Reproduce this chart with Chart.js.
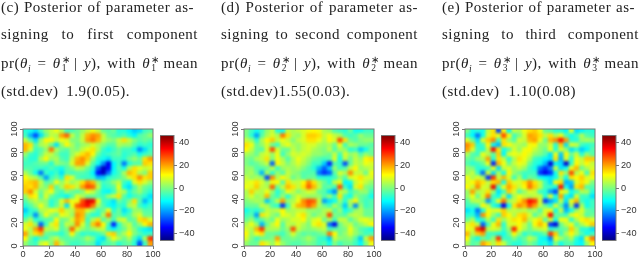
<!DOCTYPE html>
<html>
<head>
<meta charset="utf-8">
<script src="https://cdn.jsdelivr.net/npm/chart.js@4"></script>
<style>
html, body { margin: 0; background: #fff; overflow: hidden; }
#page { position: relative; width: 640px; height: 257px; filter: blur(0.4px); overflow: hidden; }
#page canvas { position: absolute; }
.line { position: absolute; height: 16px; line-height: 16px; font-family: "Liberation Serif", serif; font-size: 15px; color: #222; letter-spacing: 0.5px; text-align: justify; text-align-last: justify; }
.ss { display: inline-block; position: relative; width: 6px; height: 10px; font-size: 9.5px; line-height: 9px; margin-left: 1px; }
.ss span { position: absolute; left: 0; }
.ss span:first-child { top: -2px; }
.ss span:last-child { top: 6px; }
sub { font-size: 9.5px; line-height: 0; }
</style>
</head>
<body>
<div id="page"></div>
<script>
// rows run top (y=98) to bottom (y=2), columns left (x=2) to right (x=98)
const cellCenters = [2,6,10,14,18,22,26,30,34,38,42,46,50,54,58,62,66,70,74,78,82,86,90,94,98];
const axisTicks = [0,20,40,60,80,100];
const barTicks = [-40,-20,0,20,40];

const panelC = [
[-8,-10,-14,-6,2,6,10,4,-6,-5,-2,2,6,10,6,-2,-4,-2,-8,-8,-12,-16,-14,-6,-4],
[-6,-18,-28,-14,-2,6,4,20,26,6,-2,6,18,22,20,6,-2,-4,-6,-4,-8,-12,-4,-2,2],
[6,-4,-14,2,12,12,6,10,8,0,0,6,20,24,18,6,2,0,6,14,6,0,-4,-2,-4],
[18,14,-4,4,6,-2,-14,2,12,4,-2,2,4,8,4,0,-4,-4,4,2,2,-4,-8,-6,-8],
[18,8,-6,-4,2,24,4,-2,-4,2,0,6,10,14,4,-6,-10,-6,-2,-6,-6,-10,-22,-14,-6],
[2,-6,-8,-2,6,6,0,-6,-6,2,8,14,18,12,-2,-8,-6,-4,-2,-8,-6,-4,-10,-6,-4],
[-4,-8,-8,4,12,2,4,-4,-6,6,18,22,16,2,-8,-10,-14,-6,-6,-8,-2,2,-2,14,20],
[-6,-6,-4,-2,-2,-8,2,0,-2,8,20,20,8,-4,-10,-22,-36,-12,-6,-24,-8,-4,-4,16,14],
[-4,-4,-6,-6,-8,-4,-8,-10,-4,0,6,4,-2,-8,-26,-40,-34,-12,-4,-10,4,14,10,6,8],
[4,-2,-10,-24,-6,-10,-6,-14,-4,-6,-4,-4,-6,-12,-34,-40,-24,-10,-6,4,18,14,4,0,16],
[12,6,4,-4,-20,-6,-2,-8,14,8,-4,-6,-6,-8,-18,-16,-8,-6,-4,0,8,14,22,14,16],
[14,16,18,6,-4,-2,10,2,8,2,6,14,22,18,2,-6,-4,2,6,-6,-10,8,14,8,2],
[16,14,18,4,0,16,-4,4,16,14,6,20,28,26,6,-8,-6,-4,10,-10,-14,-4,4,-2,-4],
[16,22,8,-2,6,10,-2,-6,2,-2,-4,0,10,6,-2,-10,-12,-6,6,4,-8,-2,2,-4,-8],
[2,14,12,-4,8,-2,-6,-8,-12,-4,8,4,-2,-2,-4,-6,2,6,14,-4,-10,-6,-4,-8,-14],
[-4,2,6,2,2,-8,-4,8,18,10,10,28,38,36,10,-6,-8,-14,-2,-6,0,14,-4,-18,-10],
[-8,-4,2,10,2,-8,-2,6,-14,10,26,30,34,24,4,-4,-10,-12,-6,-8,4,6,-6,-10,-6],
[-16,-8,-6,4,6,10,8,16,6,4,18,18,8,2,-6,-2,10,-8,-2,-14,-8,2,2,-4,-4],
[-10,-6,-22,-2,10,2,-2,10,8,2,22,18,-2,-8,-8,4,24,-4,-2,-8,-4,4,8,-2,-2],
[-2,4,-8,-6,-4,-4,12,-2,0,8,20,16,-6,4,14,-4,2,-6,6,8,-4,-2,14,16,8],
[8,14,2,-26,-6,8,14,-4,6,4,22,8,-4,16,24,12,-6,-32,-8,2,6,-4,2,12,18],
[10,4,20,30,6,4,8,-4,0,26,8,2,-2,2,6,6,-8,-12,-6,-2,6,0,-8,-12,-14],
[20,4,14,18,-2,-4,-6,-8,-2,12,-2,-8,-6,-8,-6,-2,14,16,-2,4,12,0,-4,-8,-6],
[12,-2,-10,-4,-6,2,6,-2,-4,-2,-4,-2,4,0,-10,-14,0,10,4,-2,4,-6,-14,4,30],
[2,-4,-6,6,10,0,18,4,-2,-6,-6,-4,-2,-4,-14,-6,-4,-2,-8,-4,-2,-8,-28,-6,20]
];
const panelD = [
[0,-6,-10,-6,2,6,-8,-10,6,4,6,8,10,12,10,4,2,-4,-6,-8,-2,-10,-10,-6,-6],
[0,-8,-20,-4,4,8,4,24,14,4,2,8,16,16,14,6,10,6,4,-4,-6,-4,2,-2,-2],
[6,2,-8,4,12,16,6,10,6,0,6,8,14,14,10,4,12,8,28,14,-2,-4,0,2,2],
[14,10,-2,2,8,-2,-6,6,10,4,2,6,8,8,4,2,4,-2,10,-6,4,2,-2,-2,-4],
[12,6,-2,-4,8,28,8,-2,-2,6,2,6,8,4,2,0,6,-4,4,2,-8,-6,-16,-10,-2],
[4,2,-2,6,8,2,10,-6,2,8,6,8,6,2,2,0,-2,6,-6,8,2,4,-4,2,-2],
[0,-2,4,6,14,0,10,4,-4,4,10,6,2,-2,-4,-6,-4,8,-10,6,-2,6,2,12,14],
[0,-4,-2,2,6,-26,12,6,0,4,8,4,0,-6,-6,-16,-32,-4,-6,-28,-2,6,4,10,8],
[2,2,-4,-4,-2,6,-6,2,4,2,4,0,-4,-8,-18,-26,-16,2,-6,-4,6,12,2,4,6],
[2,4,-2,-18,4,-8,2,-4,6,2,0,-4,-4,-4,-24,-30,-26,-4,8,4,22,6,6,-2,10],
[6,2,4,2,-28,22,4,12,6,-2,2,-4,-2,-2,-8,-8,-8,-6,2,-4,8,10,14,8,8],
[8,10,14,8,2,10,12,-4,14,6,6,12,22,14,4,-2,-8,6,10,-12,-10,6,10,6,2],
[10,8,16,6,4,26,-2,6,18,14,6,14,26,18,6,-4,-2,-6,28,-6,-14,8,14,0,-2],
[4,16,6,4,10,2,-8,-2,10,6,0,4,8,6,-2,-4,-14,-22,6,4,-6,-2,2,2,-6],
[4,8,2,4,18,-2,-6,2,-8,2,8,4,2,2,2,-4,2,-6,14,-6,-10,2,-2,-4,-10],
[0,2,4,2,-16,-4,6,20,2,4,10,22,28,26,6,-20,-14,-10,2,-8,4,12,-2,-6,-4],
[-2,-2,-2,6,4,-4,-8,-30,-6,8,18,20,26,20,4,-2,-6,4,-2,-16,2,-22,2,-6,-4],
[-10,-6,-8,-4,6,4,6,12,2,4,6,6,2,2,0,4,6,-4,2,-10,-6,2,4,-2,-2],
[-6,-4,-20,14,8,2,-2,10,8,4,10,14,4,-2,2,4,28,0,-2,-4,4,6,4,-2,-2],
[-2,2,-6,-4,2,-2,10,2,4,8,8,12,2,8,10,-2,4,-6,6,6,-4,2,8,10,6],
[4,10,2,-18,-2,6,12,-4,6,4,8,4,0,10,14,8,-24,-36,-2,4,6,-2,2,6,12],
[8,4,18,30,4,4,4,-2,2,28,6,2,0,2,4,6,-6,-4,-2,0,10,2,-4,-6,-10],
[12,2,10,14,-2,-2,-4,-6,0,8,0,-4,-2,-4,-2,0,24,12,-2,2,8,2,-2,-6,-4],
[8,0,-6,-2,-2,0,20,-2,-2,0,-2,0,4,0,-6,-8,-16,6,2,0,2,-4,-16,6,20],
[2,-2,-2,14,8,2,10,2,-2,-4,-4,-2,0,-2,-6,-4,-10,0,-6,-2,-2,-6,-12,0,10]
];
const panelE = [
[0,-10,-8,-10,6,14,-28,12,-12,6,4,10,14,16,10,-2,-4,-8,-8,-12,8,-14,-12,-8,-8],
[-6,-12,-24,-10,8,14,10,28,12,-6,0,8,20,18,14,6,14,4,10,-4,-10,-6,4,-4,-6],
[8,-2,-14,8,16,22,-6,14,2,-4,8,6,18,20,10,-2,18,22,34,20,-8,-8,2,4,2],
[22,16,-8,-6,12,-12,-18,14,12,6,4,2,10,12,2,2,8,-8,16,-14,8,6,-6,-8,-6],
[20,8,-6,-8,6,34,14,-10,-4,8,2,10,12,6,2,-2,10,-8,8,2,-14,-8,-16,-12,-4],
[4,-4,-6,10,4,-4,16,-12,8,10,8,12,8,2,0,-4,-14,10,-16,12,-2,6,-8,2,-4],
[-2,-4,2,4,20,-8,14,6,-8,4,14,10,4,-6,-8,-12,-14,14,-18,8,-8,10,6,16,16],
[-4,-8,-6,-2,10,-32,18,10,-2,6,10,8,-2,-8,-10,-18,-38,-12,-14,-38,-6,12,6,12,6],
[2,0,-8,-8,-6,10,-14,6,8,2,6,2,-6,-10,-24,-30,-22,6,-14,-10,10,18,-2,4,8],
[2,6,-6,-25,8,-14,4,-10,12,2,-2,-6,-6,-6,-30,-36,-30,-10,14,2,28,4,10,-6,14],
[10,4,8,4,-30,30,6,18,8,-6,4,-8,-2,-4,-10,-12,-14,-10,4,-10,14,12,16,8,10],
[8,12,18,14,6,14,18,-10,16,8,8,14,22,14,6,-6,-14,12,14,-18,-16,8,14,10,0],
[12,6,22,8,6,36,-6,10,20,14,6,12,24,16,6,-6,-6,-10,34,-10,-20,14,18,-4,-4],
[2,20,4,6,14,2,-14,-6,16,8,-4,2,8,6,-6,-8,-20,-28,10,8,-10,-6,4,4,-8],
[2,10,-2,8,24,-6,-10,6,-14,4,10,6,4,6,6,-8,8,-10,20,-10,-14,8,-6,-6,-14],
[-4,4,6,2,-20,-6,10,24,4,6,14,22,34,30,8,-30,-20,-14,6,-14,10,18,-6,-10,-6],
[-6,-6,-4,12,6,-8,-14,-35,-10,14,22,18,28,20,6,-2,-8,8,-4,-22,4,-30,4,-10,-6],
[-14,-10,-24,-10,10,8,10,16,4,6,4,6,2,4,-4,8,10,-10,6,-18,-10,2,8,-2,-4],
[-8,-8,-18,22,12,2,-6,16,12,4,14,16,8,-4,2,8,34,-2,-4,-6,8,12,6,-4,-2],
[-2,4,-10,-8,4,-6,14,2,8,14,12,18,4,10,14,-4,8,-10,10,10,-8,4,12,14,8],
[8,14,6,-26,-6,10,18,-8,8,8,12,6,-2,12,18,12,-30,-38,-2,6,10,-4,4,10,16],
[10,8,30,38,6,8,6,-6,2,32,10,4,-2,4,6,8,-8,-6,-4,-2,16,4,-8,-8,-14],
[18,4,16,20,-6,-6,-8,-10,-2,12,2,-8,-4,-8,-6,-2,30,16,-6,4,12,4,-4,-10,-6],
[12,-4,-10,-2,-6,2,30,-6,-6,0,-6,-2,6,2,-10,-12,-22,10,4,-2,4,-8,-14,12,24],
[4,-4,-2,20,14,4,14,6,-4,-8,-8,-4,0,-4,-10,-8,-14,0,-10,-4,-4,-10,-12,2,12]
];

const star = n => '<span class="ss"><span>∗</span><span>' + n + '</span></span>';
const captions = [
    ['(c) Posterior of parameter as-', 'signing to first component', 'pr(<i>θ<sub>i</sub></i> = <i>θ</i>' + star(1) + ' | <i>y</i>), with <i>θ</i>' + star(1) + ' mean', '(std.dev) 1.9(0.05).'],
    ['(d) Posterior of parameter as-', 'signing to second component', 'pr(<i>θ<sub>i</sub></i> = <i>θ</i>' + star(2) + ' | <i>y</i>), with <i>θ</i>' + star(2) + ' mean', '(std.dev)1.55(0.03).'],
    ['(e) Posterior of parameter as-', 'signing to third component', 'pr(<i>θ<sub>i</sub></i> = <i>θ</i>' + star(3) + ' | <i>y</i>), with <i>θ</i>' + star(3) + ' mean', '(std.dev) 1.10(0.08)']
];
const captionLeft = [1, 221, 442];
const captionTop = [-1, 26, 55, 83];
const captionWidth = [[193, 197, 197, 129], [197, 197, 197, 132], [193, 197, 197, 134]];

const jet = ['#00007f', '#0000ff', '#007fff', '#00ffff', '#7fff7f', '#ffff00', '#ff7f00', '#ff0000', '#7f0000'];
const zMin = -46, zMax = 46;

function hexToRgb(h) {
    return [1, 3, 5].map(i => parseInt(h.substr(i, 2), 16));
}
function jetColor(v) {
    const t = Math.max(0, Math.min(0.9999, (v - zMin) / (zMax - zMin))) * (jet.length - 1);
    const i = Math.floor(t), f = t - i;
    const a = hexToRgb(jet[i]), b = hexToRgb(jet[i + 1]);
    return 'rgb(' + a.map((c, k) => Math.round(c + (b[k] - c) * f)).join(',') + ')';
}

const page = document.getElementById('page');
function addCanvas(left, top, w, h) {
    const c = document.createElement('canvas');
    c.width = w; c.height = h;
    c.style.left = left + 'px'; c.style.top = top + 'px';
    page.appendChild(c);
    return c;
}

captions.forEach((lines, p) => {
    lines.forEach((html, i) => {
        const d = document.createElement('div');
        d.className = 'line';
        d.style.left = captionLeft[p] + 'px';
        d.style.top = captionTop[i] + 'px';
        d.style.width = captionWidth[p][i] + 'px';
        d.innerHTML = html;
        page.appendChild(d);
    });
});

const tickFont = { family: '"Liberation Sans", Arial, sans-serif', size: 9.2 };
const tickColor = '#333';
const lineColor = '#777';

const frame = {
    id: 'frame',
    afterDraw(chart) {
        const a = chart.chartArea, ctx = chart.ctx;
        ctx.save();
        ctx.strokeStyle = lineColor;
        ctx.lineWidth = 1;
        ctx.strokeRect(a.left, a.top, a.right - a.left, a.bottom - a.top);
        ctx.restore();
    }
};

function softCells(px) {
    return {
        id: 'softCells',
        afterDatasetsDraw(chart) {
            const a = chart.chartArea, ctx = chart.ctx;
            const w = a.right - a.left, h = a.bottom - a.top;
            ctx.save();
            ctx.beginPath();
            ctx.rect(a.left, a.top, w, h);
            ctx.clip();
            ctx.filter = 'blur(' + px + 'px)';
            ctx.drawImage(chart.canvas, a.left, a.top, w, h, a.left, a.top, w, h);
            ctx.restore();
        }
    };
}

function heatmap(canvas, rows, blurPx) {
    const points = [];
    rows.forEach((row, r) => {
        row.forEach((v, c) => {
            points.push({ x: cellCenters[c], y: cellCenters[cellCenters.length - 1 - r], v: v });
        });
    });
    new Chart(canvas, {
        type: 'scatter',
        data: {
            datasets: [{
                data: points,
                clip: 0,
                pointStyle: 'rect',
                pointRadius: 4.1,
                pointBorderWidth: 0,
                pointBackgroundColor: points.map(p => jetColor(p.v))
            }]
        },
        options: {
            responsive: false,
            animation: false,
            events: [],
            layout: { padding: { top: 10, right: 11, left: 0, bottom: 0 } },
            plugins: { legend: { display: false }, tooltip: { enabled: false } },
            scales: {
                x: {
                    type: 'linear', min: 0, max: 100,
                    afterBuildTicks: s => { s.ticks = axisTicks.map(v => ({ value: v })); },
                    afterFit: s => { s.height = 11; },
                    border: { display: false },
                    grid: { drawOnChartArea: false, tickLength: 3, color: lineColor },
                    ticks: { font: tickFont, color: tickColor, padding: 0, maxRotation: 0, autoSkip: false }
                },
                y: {
                    type: 'linear', min: 0, max: 100,
                    afterBuildTicks: s => { s.ticks = axisTicks.map(v => ({ value: v })); },
                    afterFit: s => { s.width = 23; },
                    border: { display: false },
                    grid: { drawOnChartArea: false, tickLength: 3, color: lineColor },
                    ticks: { font: tickFont, color: tickColor, padding: -2, minRotation: 90, maxRotation: 90, crossAlign: 'center', autoSkip: false }
                }
            }
        },
        plugins: [softCells(blurPx), frame]
    });
}

function colorbar(canvas) {
    new Chart(canvas, {
        type: 'bar',
        data: {
            labels: [''],
            datasets: [{
                data: [[zMin, zMax]],
                barPercentage: 1,
                categoryPercentage: 1,
                backgroundColor: ctx => {
                    const a = ctx.chart.chartArea;
                    if (!a) return jet[0];
                    const g = ctx.chart.ctx.createLinearGradient(0, a.bottom, 0, a.top);
                    jet.forEach((c, i) => g.addColorStop(i / (jet.length - 1), c));
                    return g;
                }
            }]
        },
        options: {
            responsive: false,
            animation: false,
            events: [],
            layout: { padding: { top: 6, bottom: 7, left: 0, right: 0 } },
            plugins: { legend: { display: false }, tooltip: { enabled: false } },
            scales: {
                x: { display: false },
                y: {
                    position: 'right',
                    min: zMin, max: zMax,
                    afterBuildTicks: s => { s.ticks = barTicks.map(v => ({ value: v })); },
                    afterFit: s => { s.width = 24; },
                    border: { display: false },
                    grid: { drawOnChartArea: false, tickLength: 3, color: lineColor },
                    ticks: {
                        font: tickFont, color: tickColor, padding: 2, autoSkip: false,
                        callback: v => String(v).replace('-', '\u2212')
                    }
                }
            }
        },
        plugins: [frame]
    });
}

heatmap(addCanvas(0, 119, 164, 138), panelC, 1.6);
heatmap(addCanvas(221, 119, 164, 138), panelD, 1.5);
heatmap(addCanvas(442, 119, 164, 138), panelE, 1.5);
colorbar(addCanvas(160, 128, 38, 120));
colorbar(addCanvas(381, 128, 38, 120));
colorbar(addCanvas(602, 128, 38, 120));
</script>
</body>
</html>
